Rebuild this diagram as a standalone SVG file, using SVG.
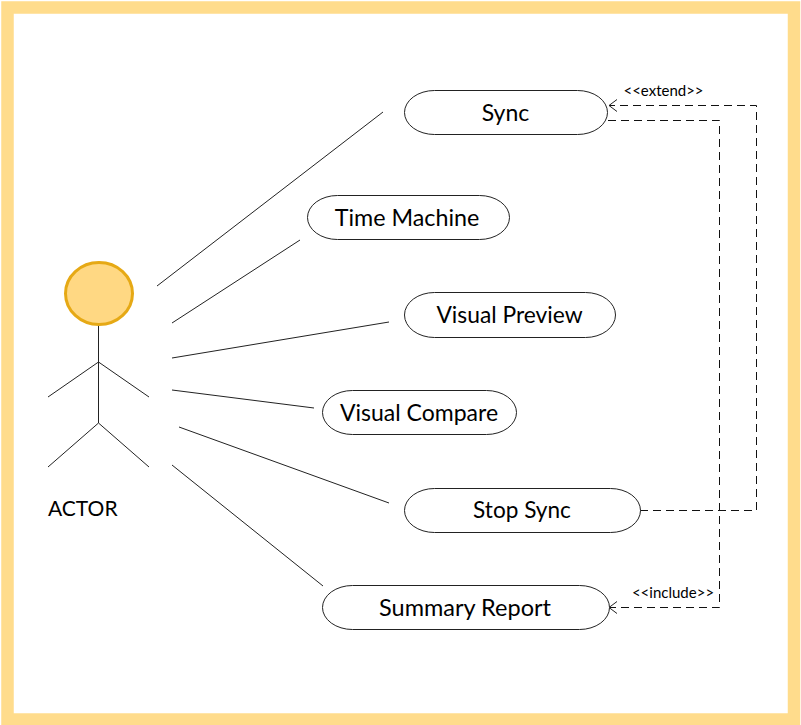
<svg xmlns="http://www.w3.org/2000/svg" width="801" height="725" viewBox="0 0 801 725">
<style>
text{font-family:Lato,"Liberation Sans",sans-serif;fill:#000}
.uc{fill:#fff;stroke:#222;stroke-width:1}
.t{font-size:23px;text-anchor:middle}
.s{font-size:15px;text-anchor:middle}
.l{stroke:#222;stroke-width:1;fill:none}
.d{stroke:#111;stroke-width:1;fill:none;stroke-dasharray:8 5}
</style>
<defs><marker id="open" markerUnits="userSpaceOnUse" markerWidth="14" markerHeight="16" refX="10" refY="8" orient="auto"><path d="M2 2 L10 8 L2 14" fill="none" stroke="#222" stroke-width="1"/></marker></defs>
<rect width="801" height="725" fill="#fff"/>
<rect id="frame" x="7.500" y="7.500" width="786.500" height="712" fill="none" stroke="#ffdc8c" stroke-width="12.500"/>
<g id="connectors">
<path class="l" d="M157 286L383 112M172 323L300 240M172 358L389 322M172 390L314 408M179 427L389 503M172 465L323 586"/>
<path class="d" d="M640 510.500H756.500V105.500H609" marker-end="url(#open)"/>
<path class="d" d="M608 120.500H719.500V607.500H609" marker-end="url(#open)"/>
<text class="s" x="663.500" y="96">&lt;&lt;extend&gt;&gt;</text>
<text class="s" x="673" y="598">&lt;&lt;include&gt;&gt;</text>
</g>
<g id="actor">
<path class="l" d="M98.500 324V362M98.500 362L48 397M98.500 362L149 397M98.500 362V423M98.500 423L48 467M98.500 423L149 467"/>
<ellipse cx="99" cy="293.500" rx="33.500" ry="31" fill="#ffd883" stroke="#e6a915" stroke-width="3"/>
<text x="48" y="516" font-size="21">ACTOR</text>
</g>
<g id="sync"><rect class="uc" x="404.500" y="90.500" width="203" height="44" rx="30" ry="22"/><text class="t" x="505.500" y="121">Sync</text></g>
<g id="time-machine"><rect class="uc" x="307.500" y="195.500" width="202" height="44" rx="30" ry="22"/><text class="t" x="407" y="226" style="font-size:23.300px">Time Machine</text></g>
<g id="visual-preview"><rect class="uc" x="404.500" y="292.500" width="211" height="45" rx="30" ry="22.500"/><text class="t" x="509.500" y="323" style="font-size:22.800px">Visual Preview</text></g>
<g id="visual-compare"><rect class="uc" x="322.500" y="390.500" width="194" height="44" rx="30" ry="22"/><text class="t" x="419" y="421">Visual Compare</text></g>
<g id="stop-sync"><rect class="uc" x="404.500" y="488.500" width="236" height="44" rx="30" ry="22"/><text class="t" x="522" y="518" style="font-size:22.600px">Stop Sync</text></g>
<g id="summary-report"><rect class="uc" x="322.500" y="585.500" width="287" height="44" rx="30" ry="22"/><text class="t" x="465" y="616" style="font-size:23.500px">Summary Report</text></g>
</svg>
